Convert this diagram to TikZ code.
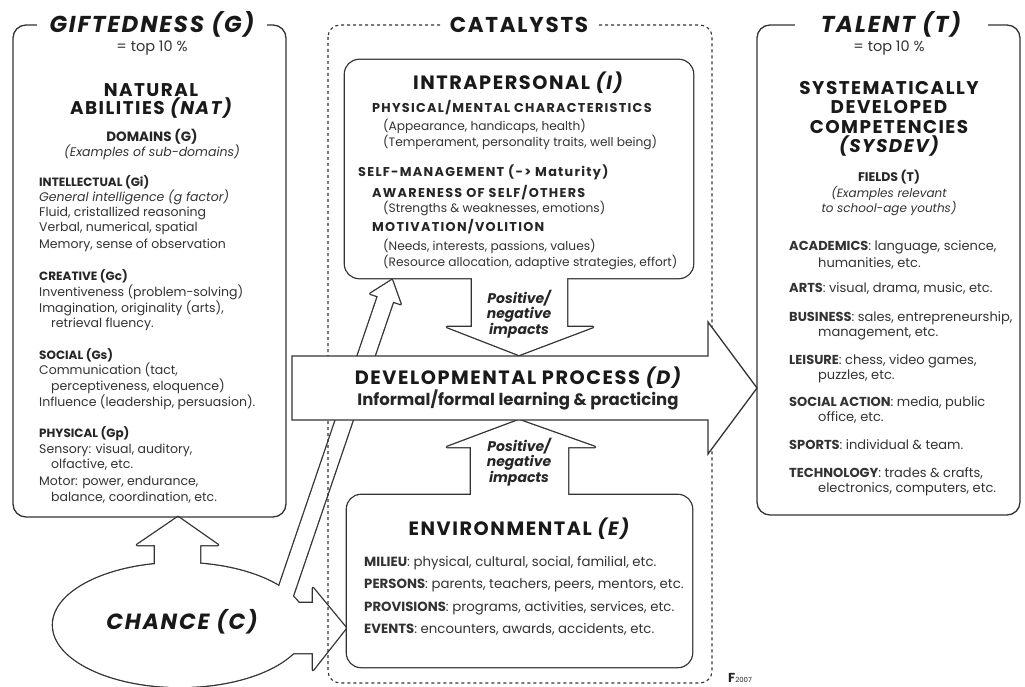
\documentclass[tikz,border=0pt]{standalone}
\usepackage{fontspec}
\setmainfont{Poppins}
\newfontfamily\spacedfont{Poppins}[LetterSpace=8]
\newfontfamily\widefont{Poppins}[LetterSpace=10]
\newcommand\fs[2]{\fontsize{#1}{#2}\selectfont}
\begin{document}
\begin{tikzpicture}[x=1pt,y=-1pt,
  outl/.style={draw=black!80,line width=1.3pt},
  uedge/.style={draw=black!80,line width=2.6pt,line join=round},
  uin/.style={fill=white},
  bigttl/.style={font=\spacedfont\bfseries\itshape\fs{23}{23},fill=white,inner sep=1pt,text=black!90},
  hd/.style={font=\spacedfont\bfseries\fs{18.4}{18.4},text=black!90,anchor=base,inner sep=0pt},
  hdb/.style={font=\spacedfont\bfseries\fs{19.3}{19.3},text=black!90,anchor=base,inner sep=0pt},
  sh/.style={font=\bfseries\fs{12}{12},text=black!85,anchor=base west,inner sep=0pt},
  ish/.style={font=\widefont\bfseries\fs{12.8}{12.8},text=black!85,anchor=base west,inner sep=0pt},
  bd/.style={font=\fs{12.5}{12.5},text=black!80,anchor=base west,inner sep=0pt},
  rbd/.style={font=\fs{13}{13},text=black!80,anchor=base west,inner sep=0pt},
  ebd/.style={font=\fs{13.3}{13.3},text=black!80,anchor=base west,inner sep=0pt},
  ibd/.style={font=\fs{12.2}{12.2},text=black!80,anchor=base west,inner sep=0pt},
  cbd/.style={font=\fs{12.5}{12.5},text=black!80,anchor=base,inner sep=0pt},
  imp/.style={font=\bfseries\itshape\fs{14}{15.5},text=black!85,align=center,inner sep=0pt}
]
\useasboundingbox (0,0) rectangle (1025,687);
\fill[white] (0,0) rectangle (1025,687);

% ---------- chance group (union) ----------
\path[uedge] (180,625) ellipse [x radius=127,y radius=62];
\path[uedge] (155,585) -- (155,545) -- (137,545) -- (178,517) -- (218,545) -- (200,545) -- (200,585) -- cycle;
\path[uedge] (280,603) -- (313,603) -- (313,588) -- (346,628) -- (313,670) -- (313,653) -- (280,653) -- cycle;
\path[uedge] (275.4,597.4) -- (377.9,296.3) -- (370.4,293.7) -- (392,280) -- (400.6,304.1) -- (393.1,301.5) -- (290.6,602.6) -- cycle;
\path[uin] (180,625) ellipse [x radius=127,y radius=62];
\path[uin] (155,585) -- (155,545) -- (137,545) -- (178,517) -- (218,545) -- (200,545) -- (200,585) -- cycle;
\path[uin] (280,603) -- (313,603) -- (313,588) -- (346,628) -- (313,670) -- (313,653) -- (280,653) -- cycle;
\path[uin] (275.4,597.4) -- (377.9,296.3) -- (370.4,293.7) -- (392,280) -- (400.6,304.1) -- (393.1,301.5) -- (290.6,602.6) -- cycle;
\node[font=\spacedfont\bfseries\itshape\fs{22}{22},text=black!90] (ch) at (182,622) {CHANCE (C)};

% ---------- catalysts dashed frame ----------
\draw[draw=black!80,line width=1.1pt,dash pattern=on 3pt off 3pt,rounded corners=12] (328,25) rectangle (712,683);
\node[font=\spacedfont\bfseries\fs{21.5}{21.5},fill=white,inner sep=1pt,minimum width=155,text=black!90] (cat) at (519,25) {CATALYSTS};

% ---------- intrapersonal (union) ----------
\path[uedge,rounded corners=14] (345,60) rectangle (693,278);
\path[uedge] (472,270) -- (472,327) -- (447,327) -- (519,355) -- (593,327) -- (567,327) -- (567,270) -- cycle;
\path[uin,rounded corners=14] (345,60) rectangle (693,278);
\path[uin] (472,270) -- (472,327) -- (447,327) -- (519,355) -- (593,327) -- (567,327) -- (567,270) -- cycle;

% ---------- environmental (union) ----------
\path[uedge,rounded corners=14] (347,495) rectangle (692,667);
\path[uedge] (471,503) -- (471,447) -- (447,447) -- (519,420) -- (595,447) -- (568,447) -- (568,503) -- cycle;
\path[uin,rounded corners=14] (347,495) rectangle (692,667);
\path[uin] (471,503) -- (471,447) -- (447,447) -- (519,420) -- (595,447) -- (568,447) -- (568,503) -- cycle;

% ---------- developmental process arrow ----------
\draw[outl,fill=white] (292,356) -- (708,356) -- (708,322) -- (757,388) -- (708,454) -- (708,420) -- (292,420) -- cycle;
\node[hdb] (dp) at (518,384) {DEVELOPMENTAL PROCESS {\itshape(D)}};
\node[font=\bfseries\fs{16.5}{16.5},text=black!85,anchor=base,inner sep=0pt] (dp2) at (518,405) {Informal/formal learning \& practicing};

% ---------- left and right boxes ----------
\draw[outl,rounded corners=13] (13,25) rectangle (286,517);
\draw[outl,rounded corners=13] (757,25) rectangle (1020,515);
\node[bigttl,minimum width=230] (gT) at (152,24) {GIFTEDNESS (G)};
\node[bigttl,minimum width=193] (tT) at (891,24) {TALENT (T)};

% ---------- left box texts ----------
\node[cbd,font=\fs{14.5}{14.5}] (g1) at (152,52) {= top 10 \%};
\node[hd] (g2) at (151,97) {NATURAL};
\node[hd] (g3) at (151,115) {ABILITIES {\itshape(NAT)}};
\node[sh,anchor=base,font=\bfseries\fs{13.5}{13.5}] (g4) at (152,142) {DOMAINS (G)};
\node[cbd,font=\itshape\fs{12.5}{12.5}] (g5) at (152,157) {(Examples of sub-domains)};
\node[sh] (a1) at (39,187) {INTELLECTUAL (Gi)};
\node[bd,font=\itshape\fs{12.5}{12.5}] (a2) at (39,202) {General intelligence (g factor)};
\node[bd] (a3) at (39,217) {Fluid, cristallized reasoning};
\node[bd] (a4) at (39,232) {Verbal, numerical, spatial};
\node[bd] (a5) at (39,248) {Memory, sense of observation};
\node[sh] (b1) at (39,280) {CREATIVE (Gc)};
\node[bd] (b2) at (39,296) {Inventiveness (problem-solving)};
\node[bd] (b3) at (39,312) {Imagination, originality (arts),};
\node[bd] (b4) at (51,327) {retrieval fluency.};
\node[sh] (c1) at (39,359) {SOCIAL (Gs)};
\node[bd] (c2) at (39,374) {Communication (tact,};
\node[bd] (c3) at (51,390) {perceptiveness, eloquence)};
\node[bd] (c4) at (39,406) {Influence (leadership, persuasion).};
\node[sh] (d1) at (39,437) {PHYSICAL (Gp)};
\node[bd] (d2) at (39,453) {Sensory: visual, auditory,};
\node[bd] (d3) at (51,468) {olfactive, etc.};
\node[bd] (d4) at (39,485) {Motor: power, endurance,};
\node[bd] (d5) at (51,501) {balance, coordination, etc.};

% ---------- intrapersonal texts ----------
\node[hdb] (i0) at (518,90) {INTRAPERSONAL {\itshape(I)}};
\node[ish] (i1) at (372,113) {PHYSICAL/MENTAL CHARACTERISTICS};
\node[ibd] (i2) at (383,131) {(Appearance, handicaps, health)};
\node[ibd] (i3) at (383,147) {(Temperament, personality traits, well being)};
\node[ish] (i4) at (358,177) {SELF-MANAGEMENT (-> Maturity)};
\node[ish] (i5) at (372,197) {AWARENESS OF SELF/OTHERS};
\node[ibd] (i6) at (383,213) {(Strengths \& weaknesses, emotions)};
\node[ish] (i7) at (372,231) {MOTIVATION/VOLITION};
\node[ibd] (i8) at (383,250) {(Needs, interests, passions, values)};
\node[ibd] (i9) at (383,266) {(Resource allocation, adaptive strategies, effort)};
\node[imp] (p1) at (519,314) {Positive/\\negative\\impacts};

% ---------- environmental texts ----------
\node[imp] (p2) at (519,462) {Positive/\\negative\\impacts};
\node[hdb] (e0) at (519,535) {ENVIRONMENTAL {\itshape(E)}};
\node[ebd] (e1) at (364,566) {\textbf{MILIEU}: physical, cultural, social, familial, etc.};
\node[ebd] (e2) at (364,588) {\textbf{PERSONS}: parents, teachers, peers, mentors, etc.};
\node[ebd] (e3) at (364,611) {\textbf{PROVISIONS}: programs, activities, services, etc.};
\node[ebd] (e4) at (364,633) {\textbf{EVENTS}: encounters, awards, accidents, etc.};

% ---------- right box texts ----------
\node[cbd,font=\fs{14.5}{14.5}] (t1) at (889,52) {= top 10 \%};
\node[hd] (t2) at (889,95) {SYSTEMATICALLY};
\node[hd] (t3) at (889,114) {DEVELOPED};
\node[hd] (t4) at (889,134) {COMPETENCIES};
\node[hd] (t5) at (889,153) {{\itshape(SYSDEV)}};
\node[sh,anchor=base,font=\bfseries\fs{12.5}{12.5}] (t6) at (889,182) {FIELDS (T)};
\node[cbd,font=\itshape\fs{12}{12}] (t7) at (889,198) {(Examples relevant};
\node[cbd,font=\itshape\fs{12}{12}] (t8) at (889,213) {to school-age youths)};
\node[rbd] (r1) at (789,251) {\textbf{ACADEMICS}: language, science,};
\node[rbd] (r2) at (818,267) {humanities, etc.};
\node[rbd] (r3) at (789,292) {\textbf{ARTS}: visual, drama, music, etc.};
\node[rbd] (r4) at (789,321) {\textbf{BUSINESS}: sales, entrepreneurship,};
\node[rbd] (r5) at (818,336) {management, etc.};
\node[rbd] (r6) at (789,364) {\textbf{LEISURE}: chess, video games,};
\node[rbd] (r7) at (818,379) {puzzles, etc.};
\node[rbd] (r8) at (789,406) {\textbf{SOCIAL ACTION}: media, public};
\node[rbd] (r9) at (818,421) {office, etc.};
\node[rbd] (r10) at (789,449) {\textbf{SPORTS}: individual \& team.};
\node[rbd] (r11) at (789,477) {\textbf{TECHNOLOGY}: trades \& crafts,};
\node[rbd] (r12) at (818,492) {electronics, computers, etc.};

% ---------- logo ----------
\node[anchor=base west,inner sep=0pt,text=black!85] (logo) at (728,682) {{\bfseries\fs{13}{13}F}{\fs{7}{7}2007}};
\end{tikzpicture}
\end{document}
